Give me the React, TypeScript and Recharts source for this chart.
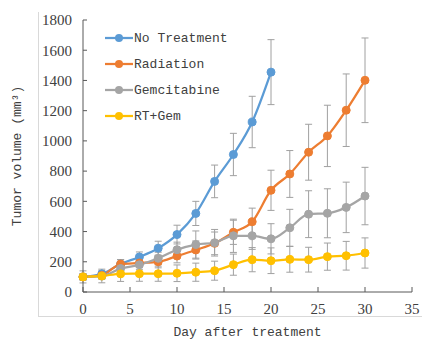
import { LineChart, Line, XAxis, YAxis, ErrorBar } from "recharts";

const days = [0, 2, 4, 6, 8, 10, 12, 14, 16, 18, 20, 22, 24, 26, 28, 30];

const noTreatment = [100, 120, 185, 232, 290, 380, 520, 732, 910, 1125, 1455];
const noTreatmentErr = [20, 20, 30, 33, 46, 62, 80, 108, 140, 170, 215];

const radiation = [100, 110, 185, 192, 200, 238, 278, 322, 395, 465, 673, 781, 925, 1033, 1203, 1401];
const radiationErr = [20, 20, 30, 30, 40, 45, 60, 75, 80, 90, 133, 155, 185, 203, 240, 280];

const gemcitabine = [100, 105, 155, 180, 223, 280, 314, 326, 372, 372, 352, 425, 515, 521, 560, 635];
const gemcitabineErr = [20, 20, 30, 30, 40, 50, 90, 88, 110, 90, 100, 122, 155, 162, 167, 190];

const rtGem = [100, 106, 120, 121, 121, 124, 131, 141, 181, 214, 207, 216, 214, 234, 240, 258];
const rtGemErr = [40, 45, 50, 50, 50, 55, 60, 63, 70, 80, 85, 85, 82, 90, 95, 100];

const xTicks = [0, 5, 10, 15, 20, 25, 30, 35];
const yTicks = [0, 200, 400, 600, 800, 1000, 1200, 1400, 1600, 1800];

const series = [
  { key: "nt", name: "No Treatment", color: "#5B9BD5", values: noTreatment, errors: noTreatmentErr },
  { key: "rad", name: "Radiation", color: "#ED7D31", values: radiation, errors: radiationErr },
  { key: "gem", name: "Gemcitabine", color: "#A5A5A5", values: gemcitabine, errors: gemcitabineErr },
  { key: "rtg", name: "RT+Gem", color: "#FFC000", values: rtGem, errors: rtGemErr },
];

const data = days.map((day, i) => {
  const row: Record<string, number | null> = { day };
  series.forEach((s) => {
    row[s.key] = s.values[i] ?? null;
    row[s.key + "Err"] = s.values[i] != null ? s.errors[i] : null;
  });
  return row;
});

const serif = "Liberation Serif";
const mono = "Liberation Mono";
const tickStyle = { fontFamily: serif, fontSize: 15, fill: "#404040" };

const XTick = ({ x, y, payload }: any) => (
  <text x={x} y={y} dy="0.71em" textAnchor="middle" style={tickStyle}>
    {payload.value}
  </text>
);

const YTick = ({ x, y, payload }: any) => (
  <text x={x} y={y} dy="0.355em" textAnchor="end" style={tickStyle}>
    {payload.value}
  </text>
);

const App = () => (
  <div style={{ position: "absolute", left: 0, top: 0, width: 422, height: 340, background: "#fff" }}>
    <div
      style={{
        position: "absolute", left: 38, top: 12, width: 384, height: 304,
        borderLeft: "1px solid #d9d9d9", borderBottom: "1px solid #d9d9d9",
      }}
    />
    <LineChart width={422} height={340} data={data} margin={{ top: 20, right: 10, left: 0, bottom: 0 }}>
      <XAxis
        dataKey="day" type="number" domain={[0, 35]} ticks={xTicks}
        stroke="#595959" tickSize={-5} tickMargin={16} tick={XTick} height={48}
        label={{ value: "Day after treatment", position: "insideBottom", offset: 4, style: { fontFamily: mono, fontSize: 13, fill: "#404040" } }}
      />
      <YAxis
        type="number" domain={[0, 1800]} ticks={yTicks}
        stroke="#595959" tickSize={-4} tickMargin={15} tick={YTick} width={83}
        label={{ value: "Tumor volume (mm³)", angle: -90, position: "insideLeft", offset: 16, style: { textAnchor: "middle", fontFamily: mono, fontSize: 13, fill: "#404040" } }}
      />
      {series.map((s) => (
        <Line
          key={s.key} type="monotone" dataKey={s.key} name={s.name}
          stroke={s.color} strokeWidth={2.25}
          dot={{ r: 4, fill: s.color, stroke: s.color, strokeWidth: 1 }}
          activeDot={false} isAnimationActive={false}
        >
          <ErrorBar dataKey={s.key + "Err"} width={3.5} stroke="#a0a0a0" strokeWidth={1} direction="y" />
        </Line>
      ))}
    </LineChart>
    {/* legend */}
    <div style={{ position: "absolute", left: 105, top: 25, fontFamily: mono, fontSize: 13, color: "#404040" }}>
      {series.map((s) => (
        <div key={s.key} style={{ display: "flex", alignItems: "center", height: 26 }}>
          <svg width={28} height={10}>
            <line x1={0} y1={5} x2={28} y2={5} stroke={s.color} strokeWidth={2.25} />
            <circle cx={14} cy={5} r={4} fill={s.color} />
          </svg>
          <span style={{ marginLeft: 1 }}>{s.name}</span>
        </div>
      ))}
    </div>
  </div>
);

export default App;
